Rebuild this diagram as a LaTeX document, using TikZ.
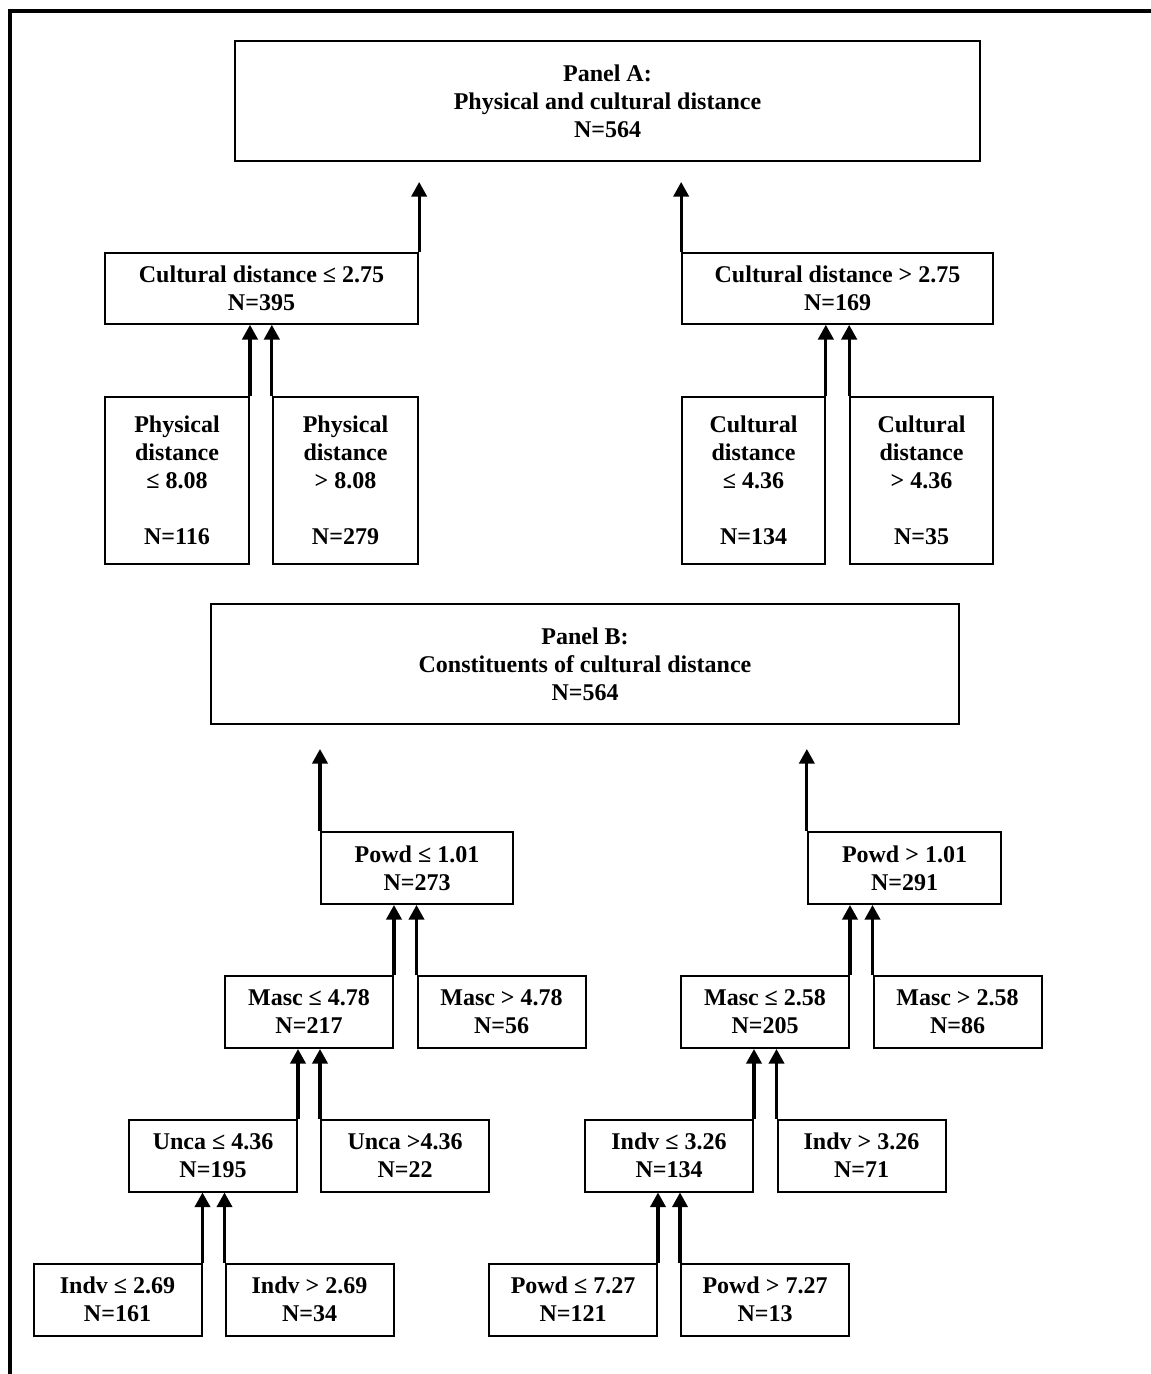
\documentclass[tikz,border=0pt]{standalone}
\usepackage{fontspec}
\setmainfont{Liberation Serif}
\usepackage{tikz}
\usetikzlibrary{arrows.meta}

\tikzset{
  box/.style={draw, line width=1.5pt, inner sep=0pt, align=center,
    font=\fontsize{18}{21}\selectfont\bfseries},
  leaf/.style={box, minimum width=126pt, minimum height=54pt},
  up/.style={line width=2.3pt, -{Triangle[width=11.5pt,length=11pt]}}
}

\begin{document}
\begin{tikzpicture}[x=0.75pt,y=0.75pt,yscale=-1,xscale=1]
\useasboundingbox (0,0) rectangle (1150,1374);

%Frame
\draw [line width=3pt]  (10,1390) -- (10,11) -- (1165,11) ;

% Panel A
\node (panelA) at (607.5,101) [box, minimum width=559pt, minimum height=90pt] {Panel A:\\Physical and cultural distance\\N=564};
\node (culLo) at (261.5,288.5) [box, minimum width=235pt, minimum height=53pt] {Cultural distance ≤ 2.75\\N=395};
\node (culHi) at (837.5,288.5) [box, minimum width=233pt, minimum height=53pt] {Cultural distance > 2.75\\N=169};
\node (phyLo) at (177,480.5) [box, minimum width=108pt, minimum height=125pt] {Physical\\distance\\≤ 8.08\\[21pt]N=116};
\node (phyHi) at (345.5,480.5) [box, minimum width=109pt, minimum height=125pt] {Physical\\distance\\> 8.08\\[21pt]N=279};
\node (cdLo) at (753.5,480.5) [box, minimum width=107pt, minimum height=125pt] {Cultural\\distance\\≤ 4.36\\[21pt]N=134};
\node (cdHi) at (921.5,480.5) [box, minimum width=107pt, minimum height=125pt] {Cultural\\distance\\> 4.36\\[21pt]N=35};

% Panel B
\node (panelB) at (585,664) [box, minimum width=561pt, minimum height=90pt] {Panel B:\\Constituents of cultural distance\\N=564};
\node (powLo) at (417,868) [box, minimum width=144pt, minimum height=54pt] {Powd ≤ 1.01\\N=273};
\node (powHi) at (904.5,868) [box, minimum width=145pt, minimum height=54pt] {Powd > 1.01\\N=291};
\node (mascLoA) at (309,1012) [leaf] {Masc ≤ 4.78\\N=217};
\node (mascHiA) at (501.5,1012) [leaf] {Masc > 4.78\\N=56};
\node (mascLoB) at (765,1012) [leaf] {Masc ≤ 2.58\\N=205};
\node (mascHiB) at (957.5,1012) [leaf] {Masc > 2.58\\N=86};
\node (uncaLo) at (213,1155.5) [leaf] {Unca ≤ 4.36\\N=195};
\node (uncaHi) at (405,1155.5) [leaf] {Unca >4.36\\N=22};
\node (indvLoB) at (669,1155.5) [leaf] {Indv ≤ 3.26\\N=134};
\node (indvHiB) at (861.5,1155.5) [leaf] {Indv > 3.26\\N=71};
\node (indvLoA) at (117.5,1299.5) [leaf] {Indv ≤ 2.69\\N=161};
\node (indvHiA) at (309.5,1299.5) [leaf] {Indv > 2.69\\N=34};
\node (powLoB) at (573,1299.5) [leaf] {Powd ≤ 7.27\\N=121};
\node (powHiB) at (765,1299.5) [leaf] {Powd > 7.27\\N=13};

%Straight Lines
\draw [up, shorten >=15pt] (culLo.north east) -- (culLo.north east |- panelA.south) ;
\draw [up, shorten >=15pt] (culHi.north west) -- (culHi.north west |- panelA.south) ;
\draw [up] (phyLo.north east) -- (phyLo.north east |- culLo.south) ;
\draw [up] (phyHi.north west) -- (phyHi.north west |- culLo.south) ;
\draw [up] (cdLo.north east) -- (cdLo.north east |- culHi.south) ;
\draw [up] (cdHi.north west) -- (cdHi.north west |- culHi.south) ;

%Straight Lines
\draw [up, shorten >=18pt] (powLo.north west) -- (powLo.north west |- panelB.south) ;
\draw [up, shorten >=18pt] (powHi.north west) -- (powHi.north west |- panelB.south) ;
\draw [up] (mascLoA.north east) -- (mascLoA.north east |- powLo.south) ;
\draw [up] (mascHiA.north west) -- (mascHiA.north west |- powLo.south) ;
\draw [up] (mascLoB.north east) -- (mascLoB.north east |- powHi.south) ;
\draw [up] (mascHiB.north west) -- (mascHiB.north west |- powHi.south) ;
\draw [up] (uncaLo.north east) -- (uncaLo.north east |- mascLoA.south) ;
\draw [up] (uncaHi.north west) -- (uncaHi.north west |- mascLoA.south) ;
\draw [up] (indvLoB.north east) -- (indvLoB.north east |- mascLoB.south) ;
\draw [up] (indvHiB.north west) -- (indvHiB.north west |- mascLoB.south) ;
\draw [up] (indvLoA.north east) -- (indvLoA.north east |- uncaLo.south) ;
\draw [up] (indvHiA.north west) -- (indvHiA.north west |- uncaLo.south) ;
\draw [up] (powLoB.north east) -- (powLoB.north east |- indvLoB.south) ;
\draw [up] (powHiB.north west) -- (powHiB.north west |- indvLoB.south) ;

\end{tikzpicture}
\end{document}
